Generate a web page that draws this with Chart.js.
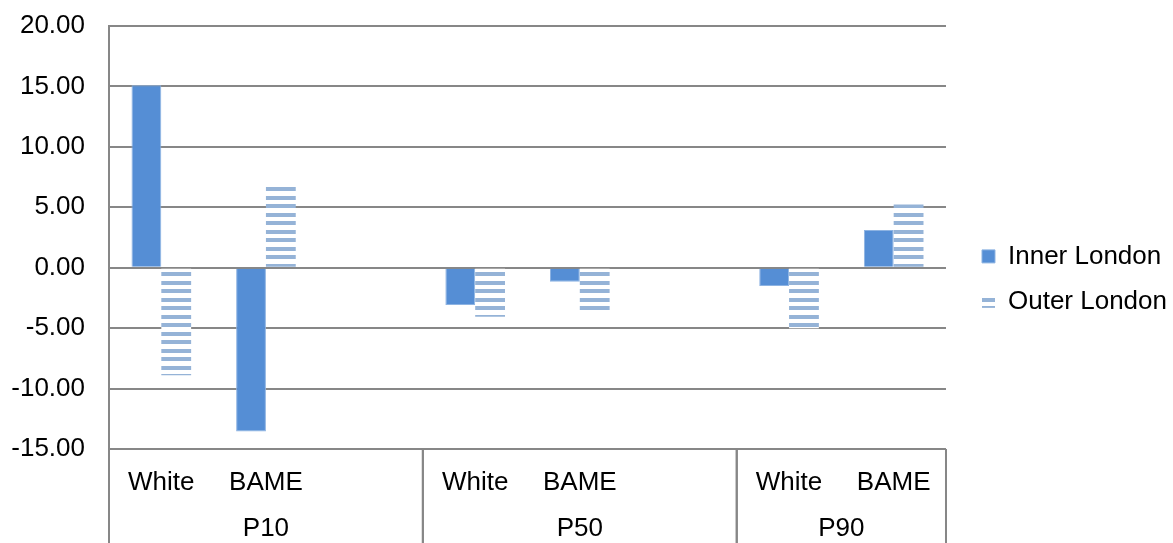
<!DOCTYPE html>
<html>
<head>
<meta charset="utf-8">
<script src="https://cdn.jsdelivr.net/npm/chart.js@4"></script>
<style>
html, body { margin: 0; padding: 0; background: #fff; }
#wrap { width: 1173px; height: 543px; }
</style>
</head>
<body>
<div id="wrap"><canvas id="grafico"></canvas></div>
<script>
// data
const subLabels = ['White', 'BAME', '', 'White', 'BAME', '', 'White', 'BAME']
const groups = ['P10', 'P50', 'P90']
const groupOf = [0, 0, 0, 1, 1, 1, 2, 2] // which group each sub label belongs to
const innerLondon = [15.1, -13.55, null, -3.08, -1.16, null, -1.51, 3.12]
const outerLondon = [-8.9, 6.7, null, -4.05, -3.55, null, -5.0, 5.24]
const yTicks = [-15, -10, -5, 0, 5, 10, 15, 20]

const gris = '#878787'
const fuente = '"Liberation Sans", Arial, sans-serif'
const tam = 26

// striped fill for Outer London
const stripes = () => {
    const c = document.createElement('canvas')
    c.width = 8
    c.height = 17
    const g = c.getContext('2d')
    g.fillStyle = '#ffffff'
    g.fillRect(0, 0, 8, 17)
    g.fillStyle = '#95b3d7'
    g.fillRect(0, 0, 8, 4)
    g.fillRect(0, 9, 8, 4)
    return g.createPattern(c, 'repeat')
}

// second row of the category axis + group separators
const groupsPlugin = {
    id: 'groups',
    afterLayout(chart) {
        // nudge the legend a bit to the right, like the original
        chart.legend.left += 17
        chart.legend.right += 17
    },
    afterDraw(chart) {
        const ctx = chart.ctx
        const x = chart.scales.x
        const area = chart.chartArea
        const step = x.getPixelForValue(1) - x.getPixelForValue(0)
        ctx.save()
        ctx.strokeStyle = gris
        ctx.lineWidth = 2
        ctx.fillStyle = '#000'
        ctx.font = tam + 'px ' + fuente
        ctx.textAlign = 'center'
        ctx.textBaseline = 'middle'
        groups.forEach((g, i) => {
            const idx = groupOf.map((v, k) => v === i ? k : -1).filter(k => k >= 0)
            const left = x.getPixelForValue(idx[0]) - step / 2
            const right = x.getPixelForValue(idx[idx.length - 1]) + step / 2
            ctx.beginPath()
            ctx.moveTo(left, area.bottom)
            ctx.lineTo(left, chart.height)
            ctx.moveTo(right, area.bottom)
            ctx.lineTo(right, chart.height)
            ctx.stroke()
            ctx.fillText(g, (left + right) / 2, 529)
        })
        ctx.restore()
    }
}

const ctx = document.getElementById('grafico').getContext('2d')
const myChart = new Chart(ctx, {
    type: 'bar',
    data: {
        labels: subLabels,
        datasets: [{
            label: 'Inner London',
            data: innerLondon,
            backgroundColor: '#558ed5',
            borderColor: '#8db3e2',
            borderWidth: 1,
            categoryPercentage: 0.57,
            barPercentage: 1
        }, {
            label: 'Outer London',
            data: outerLondon,
            backgroundColor: stripes(),
            borderWidth: 0,
            categoryPercentage: 0.57,
            barPercentage: 1
        }]
    },
    plugins: [groupsPlugin],
    options: {
        responsive: true,
        maintainAspectRatio: false,
        animation: false,
        layout: { padding: { top: 26, right: 13, left: 0, bottom: 0 } },
        plugins: {
            tooltip: { enabled: false },
            legend: {
                position: 'right',
                align: 'start',
                title: { display: true, text: '', padding: { top: 184 } },
                labels: {
                    boxWidth: 13,
                    boxHeight: 13,
                    padding: 19,
                    color: '#000',
                    font: { size: tam, family: fuente }
                }
            }
        },
        scales: {
            x: {
                grid: { display: false },
                border: { display: false },
                ticks: {
                    color: '#000',
                    padding: 10,
                    maxRotation: 0,
                    autoSkip: false,
                    font: { size: tam, family: fuente }
                },
                afterFit: s => { s.height = 94 }
            },
            y: {
                min: -15,
                max: 20,
                afterBuildTicks: s => { s.ticks = yTicks.map(v => ({ value: v })) },
                grid: { color: gris, lineWidth: 2, drawTicks: false },
                border: { color: gris, width: 2 },
                ticks: {
                    color: '#000',
                    padding: 24,
                    font: { size: tam, family: fuente },
                    callback: v => v.toFixed(2)
                },
                afterFit: s => {
                    s.width = 109
                    s.paddingTop = 0
                    s.paddingBottom = 0
                }
            }
        }
    }
})
</script>
</body>
</html>
